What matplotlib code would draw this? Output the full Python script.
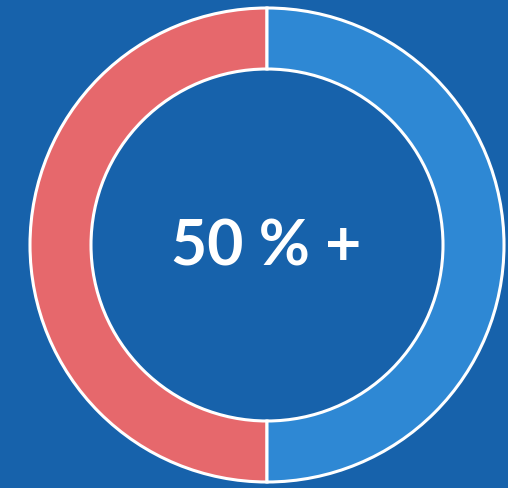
import matplotlib.pyplot as plt

# donut values
labels = ["other", "50 % +"]
values = [50, 50]
colors = ["#e6686c", "#2e88d4"]
center_text = "50 % +"

bg = "#1762ab"

fig = plt.figure(figsize=(5.08, 4.88), dpi=100)
fig.patch.set_facecolor(bg)
ax = fig.add_axes([0, 0, 1, 1])
ax.set_facecolor(bg)

ax.pie(values, colors=colors, startangle=90, counterclock=True,
       center=(267, 243), radius=237,
       wedgeprops=dict(width=61, edgecolor="white", linewidth=2.2))

# pie resets limits, so set them afterwards
ax.set_xlim(0, 508)
ax.set_ylim(0, 488)
ax.set_aspect("equal")
ax.axis("off")

ax.text(266, 241, center_text, color="white", fontsize=45, family="Lato",
        fontweight="bold", ha="center", va="center")

plt.savefig("out.png", dpi=100, facecolor=bg)
